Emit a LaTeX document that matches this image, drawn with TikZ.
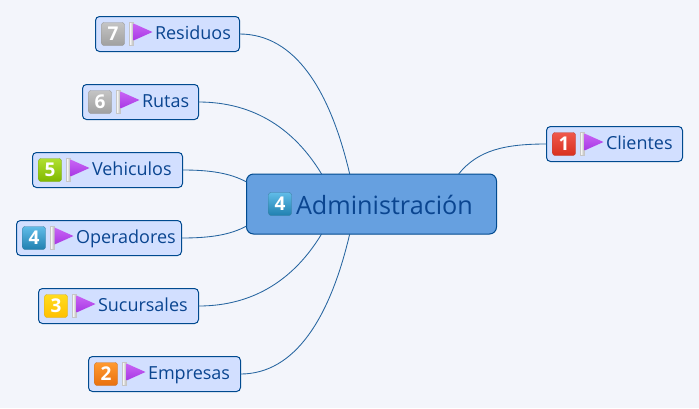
\documentclass[tikz,border=0pt]{standalone}
\usepackage{fontspec}
\setmainfont{Open Sans}
\usepackage{tikz}
\usetikzlibrary{positioning}
\usetikzlibrary{shapes.geometric}
\definecolor{pagebg}{HTML}{F3F5FB}
\definecolor{linecol}{HTML}{004A8F}
\definecolor{topicfill}{HTML}{D2DFFF}
\definecolor{rootfill}{HTML}{66A0E0}
\definecolor{textcol}{HTML}{0A4590}

\begin{document}
\begin{tikzpicture}[
    x=1pt, y=-1pt,
    box/.style={rectangle, draw=linecol, line width=1pt, fill=topicfill, rounded corners=4pt, minimum height=35pt, outer sep=0pt, inner sep=0pt, anchor=west},
    root/.style={box, fill=rootfill, rounded corners=7pt, minimum height=60pt},
    badge/.style={rectangle, rounded corners=2.5pt, draw=#1!70!gray, minimum width=23pt, minimum height=23pt, inner sep=0pt, outer sep=0pt, text=white, font=\fontsize{19}{19}\selectfont\bfseries},
    pole/.style={rectangle, draw=gray!45, line width=.5pt, left color=white, right color=gray!55, minimum width=3.5pt, minimum height=23pt, inner sep=0pt, outer sep=0pt},
    flag/.style={isosceles triangle, isosceles triangle apex angle=56, isosceles triangle stretches, minimum width=17pt, minimum height=19pt, inner sep=0pt, outer sep=0pt, top color=purple1, bottom color=purple2, yshift=2pt},
    lbl/.style={inner sep=0pt, outer sep=0pt, text=textcol, text height=15pt, text depth=0pt, font=\fontsize{18}{20}\selectfont},
    link/.style={draw=linecol!85, line width=.85pt},
    red1/.style={badge=red1d, top color=red1, bottom color=red1d},
    org1/.style={badge=org1d, top color=org1, bottom color=org1d},
    yel1/.style={badge=yel1d, top color=yel1, bottom color=yel1d},
    blu1/.style={badge=blu1d, top color=blu1, bottom color=blu1d},
    grn1/.style={badge=grn1d, top color=grn1, bottom color=grn1d},
    gry1/.style={badge=gry1d, top color=gry1, bottom color=gry1d}
]
\definecolor{purple1}{HTML}{C864F4}
\definecolor{purple2}{HTML}{A838E4}
\definecolor{red1}{HTML}{F0584C}\definecolor{red1d}{HTML}{D83020}
\definecolor{org1}{HTML}{FF9A30}\definecolor{org1d}{HTML}{E87010}
\definecolor{yel1}{HTML}{FFDC20}\definecolor{yel1d}{HTML}{FFC000}
\definecolor{blu1}{HTML}{60BCE8}\definecolor{blu1d}{HTML}{2080B0}
\definecolor{grn1}{HTML}{B0E030}\definecolor{grn1d}{HTML}{80B800}
\definecolor{gry1}{HTML}{C4C4C4}\definecolor{gry1d}{HTML}{A0A0A0}

\fill[pagebg] (0,0) rectangle (699,408);
\useasboundingbox (0,0) rectangle (699,408);

% Centre
\node[root, minimum width=250pt] (admin) at (246.5,204) {};
\node[blu1] (adminnum) [right=22pt of admin.west] {4};
\node[lbl, text height=22pt, text depth=2pt, font=\fontsize{25.2}{28}\selectfont] (admintext) [right=4.5pt of adminnum] {Administración};

% Topics
\node[box, minimum width=144pt] (residuos) at (95.5,34) {};
\node[gry1] (residuosnum) [right=6pt of residuos.west] {7};
\node[pole] (residuospole) [right=5pt of residuosnum] {};
\node[flag] (residuosflag) [right=.5pt of residuospole] {};
\node[lbl] (residuostext) [right=2.5pt of residuosflag] {Residuos};

\node[box, minimum width=116pt] (rutas) at (82.5,102) {};
\node[gry1] (rutasnum) [right=6pt of rutas.west] {6};
\node[pole] (rutaspole) [right=5pt of rutasnum] {};
\node[flag] (rutasflag) [right=.5pt of rutaspole] {};
\node[lbl] (rutastext) [right=2.5pt of rutasflag] {Rutas};

\node[box, minimum width=150pt] (vehiculos) at (32.5,170) {};
\node[grn1] (vehiculosnum) [right=6pt of vehiculos.west] {5};
\node[pole] (vehiculospole) [right=5pt of vehiculosnum] {};
\node[flag] (vehiculosflag) [right=.5pt of vehiculospole] {};
\node[lbl] (vehiculostext) [right=2.5pt of vehiculosflag] {Vehiculos};

\node[box, minimum width=165pt] (operadores) at (16.5,238) {};
\node[blu1] (operadoresnum) [right=6pt of operadores.west] {4};
\node[pole] (operadorespole) [right=5pt of operadoresnum] {};
\node[flag] (operadoresflag) [right=.5pt of operadorespole] {};
\node[lbl] (operadorestext) [right=2.5pt of operadoresflag] {Operadores};

\node[box, minimum width=160pt] (sucursales) at (38.5,306) {};
\node[yel1] (sucursalesnum) [right=6pt of sucursales.west] {3};
\node[pole] (sucursalespole) [right=5pt of sucursalesnum] {};
\node[flag] (sucursalesflag) [right=.5pt of sucursalespole] {};
\node[lbl] (sucursalestext) [right=2.5pt of sucursalesflag] {Sucursales};

\node[box, minimum width=152pt] (empresas) at (88.5,374) {};
\node[org1] (empresasnum) [right=6pt of empresas.west] {2};
\node[pole] (empresaspole) [right=5pt of empresasnum] {};
\node[flag] (empresasflag) [right=.5pt of empresaspole] {};
\node[lbl] (empresastext) [right=2.5pt of empresasflag] {Empresas};

\node[box, minimum width=136pt] (clientes) at (546.5,144) {};
\node[red1] (clientesnum) [right=6pt of clientes.west] {1};
\node[pole] (clientespole) [right=5pt of clientesnum] {};
\node[flag] (clientesflag) [right=.5pt of clientespole] {};
\node[lbl] (clientestext) [right=2.5pt of clientesflag] {Clientes};

% Links
\draw[link] (residuos.east) .. controls (295,34) and (330,90) .. (admin.126);
\draw[link] (rutas.east) .. controls (255,102) and (295,130) .. (admin.149);
\draw[link] (vehiculos.east) .. controls (210,170) and (230,173) .. (admin.170);
\draw[link] (operadores.east) .. controls (210,238) and (230,235) .. (admin.190);
\draw[link] (sucursales.east) .. controls (255,306) and (295,278) .. (admin.211);
\draw[link] (empresas.east) .. controls (295,374) and (330,318) .. (admin.234);
\draw[link] (clientes.west) .. controls (505,144) and (478,150) .. (admin.19);

\end{tikzpicture}
\end{document}
